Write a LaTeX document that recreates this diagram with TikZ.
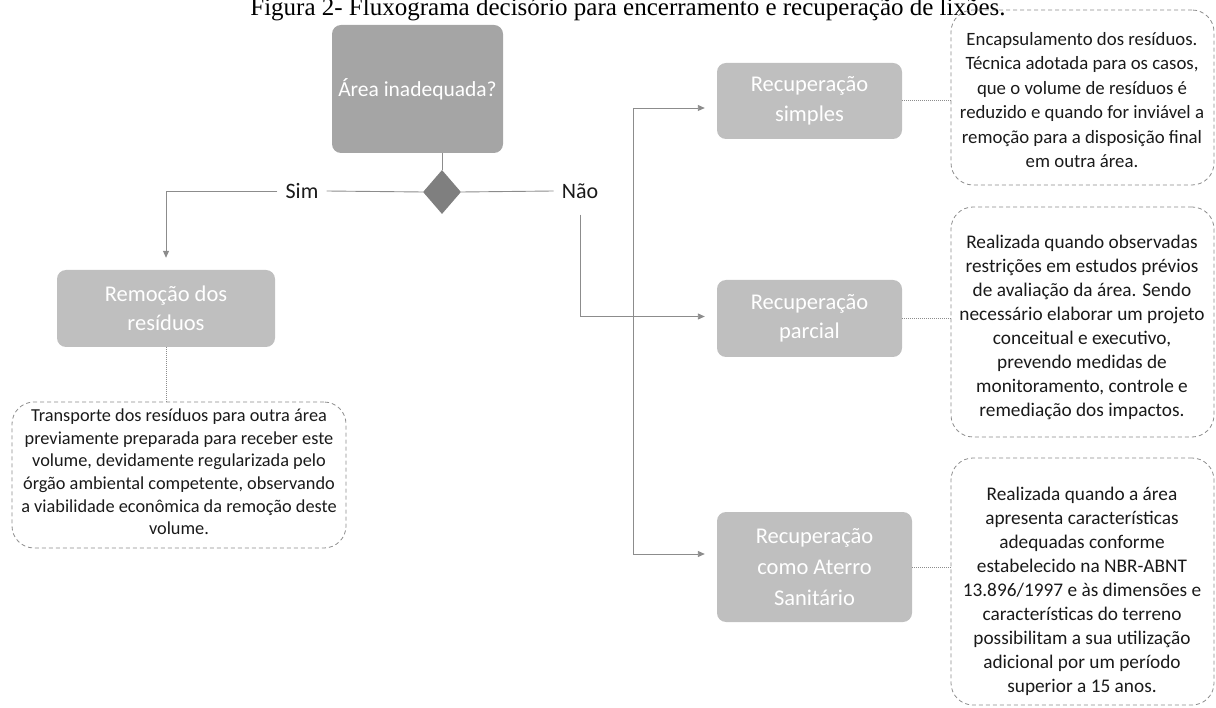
\documentclass[tikz,border=0pt]{standalone}
\usepackage{fontspec}
\setmainfont{Carlito}
\newfontfamily\titlefont{Liberation Serif}
\usetikzlibrary{shapes.geometric,arrows.meta}
\definecolor{dgray}{HTML}{A5A5A5}
\definecolor{lgray}{HTML}{BFBFBF}
\definecolor{dmgray}{HTML}{7F7F7F}
\definecolor{lnc}{HTML}{8C8C8C}
\definecolor{txt}{HTML}{1A1A1A}
\begin{document}
\begin{tikzpicture}[x=1pt,y=-1pt,
  gbox/.style={fill=lgray, rounded corners=9pt, text=white, align=center, inner sep=0pt,
    font=\fontsize{22.5}{29.5}\selectfont},
  note/.style={draw=lnc, dash pattern=on 4pt off 3pt, line width=0.8pt, rounded corners=22pt,
    inner sep=0pt},
  notetext/.style={align=center, inner sep=0pt, text=txt, font=\fontsize{19.3}{24}\selectfont},
  lab/.style={font=\fontsize{22}{26}\selectfont, inner sep=8pt, text=txt},
  conn/.style={draw=lnc, line width=0.9pt},
  arr/.style={conn, -{Triangle[length=7pt,width=6pt]}, shorten >=12pt},
  dots/.style={draw=lnc, line width=1pt, dash pattern=on 1pt off 1pt}
]
\useasboundingbox (0,0) rectangle (1216,708);

\node[font=\titlefont\fontsize{25}{29}\selectfont, anchor=base] (title) at (628,15.5)
  {Figura 2- Fluxograma decisório para encerramento e recuperação de lixões.};

% main decision
\node[gbox, fill=dgray, minimum width=171pt, minimum height=128pt,
      font=\fontsize{21.5}{25}\selectfont] (main) at (417.5,89) {Área inadequada?};
\node[diamond, fill=dmgray, minimum width=38pt, minimum height=44pt, inner sep=0pt] (dia) at (442,192) {};
\node[lab] (sim) at (302,191) {Sim};
\node[lab] (nao) at (580,191) {Não};

% left branch
\node[gbox, minimum width=218pt, minimum height=77pt] (remocao) at (166,308.5) {Remoção dos\\resíduos};
\node[note, minimum width=334pt, minimum height=146pt] (d0) at (179,475) {};
\node[notetext, font=\fontsize{18.3}{22.6}\selectfont] (d0t) at (179,472)
  {Transporte dos resíduos para outra área\\previamente preparada para receber este\\volume, devidamente regularizada pelo\\órgão ambiental competente, observando\\a viabilidade econômica da remoção deste\\volume.};

% right branch
\node[gbox, minimum width=185pt, minimum height=76pt] (simples) at (809.5,101) {Recuperação\\simples};
\node[gbox, minimum width=185pt, minimum height=77pt] (parcial) at (809.5,318.5) {Recuperação\\parcial};
\node[gbox, minimum width=195pt, minimum height=110pt, font=\fontsize{22.5}{31}\selectfont] (aterro) at (814.5,567) {Recuperação\\como Aterro\\Sanitário};

\node[note, minimum width=263pt, minimum height=175pt] (d1) at (1082.5,97.5) {};
\node[notetext, font=\fontsize{18.8}{24.5}\selectfont] (d1t) at (1082,100)
  {Encapsulamento dos resíduos.\\Técnica adotada para os casos,\\que o volume de resíduos é\\reduzido e quando for inviável a\\remoção para a disposição final\\em outra área.};
\node[note, minimum width=263pt, minimum height=230pt] (d2) at (1082.5,322) {};
\node[notetext] (d2t) at (1082,327)
  {Realizada quando observadas\\restrições em estudos prévios\\de avaliação da área. Sendo\\necessário elaborar um projeto\\conceitual e executivo,\\prevendo medidas de\\monitoramento, controle e\\remediação dos impactos.};
\node[note, minimum width=263pt, minimum height=247pt] (d3) at (1082.5,581.5) {};
\node[notetext] (d3t) at (1082,591)
  {Realizada quando a área\\apresenta características\\adequadas conforme\\estabelecido na NBR-ABNT\\13.896/1997 e às dimensões e\\características do terreno\\possibilitam a sua utilização\\adicional por um período\\superior a 15 anos.};

% connectors
\draw[conn] (dia.north) -- (dia.north |- main.south);
\draw[conn] (dia.west) -- (sim.east);
\draw[conn] (dia.east) -- (nao.west);
\draw[arr] (sim.west) -| (remocao.north);
\draw[dots] (remocao.south) -- (remocao.south |- d0.north);

\coordinate (bustop) at (633,108);
\coordinate (busbot) at (633,554);
\draw[conn] (bustop) -- (busbot);
\draw[arr] (bustop) -- (bustop -| simples.west);
\draw[arr] (busbot) -- (busbot -| aterro.west);
\draw[arr, shorten <=8pt] (nao.south) |- ([yshift=2pt]parcial.west);

\draw[dots] (simples.east) -- (simples.east -| d1.west);
\draw[dots] (parcial.east) -- (parcial.east -| d2.west);
\draw[dots] (aterro.east) -- (aterro.east -| d3.west);
\end{tikzpicture}
\end{document}
